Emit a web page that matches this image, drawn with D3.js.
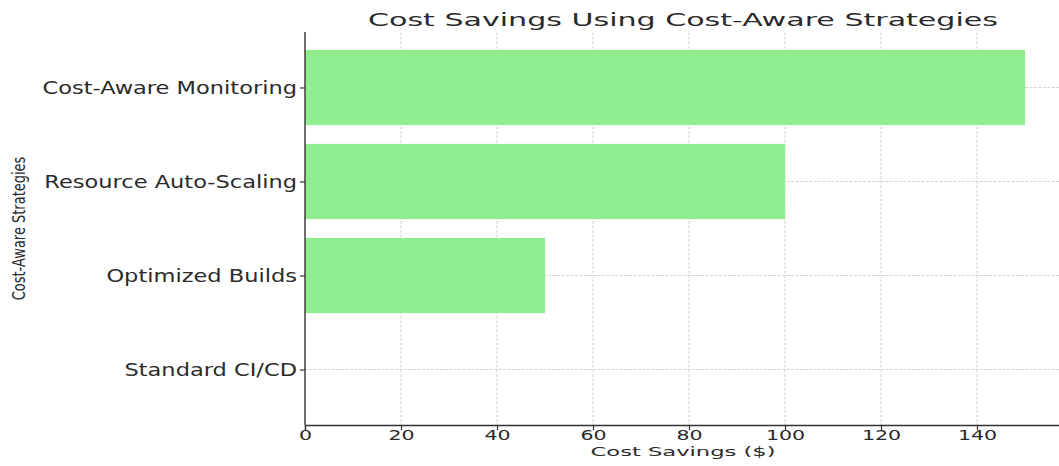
<!DOCTYPE html>
<html><head><meta charset="utf-8">
<script src="https://cdn.jsdelivr.net/npm/d3@7"></script>
<style>
body{margin:0;background:#fff}
svg{display:block}
text{font-family:"DejaVu Sans",sans-serif;fill:#2a2a2a}
</style></head><body>
<script>
const categories = ["Standard CI/CD", "Optimized Builds", "Resource Auto-Scaling", "Cost-Aware Monitoring"];
const savings = [0, 50, 100, 150];
const xTicks = [0, 20, 40, 60, 80, 100, 120, 140];
const titleText = "Cost Savings Using Cost-Aware Strategies";
const xLabelText = "Cost Savings ($)";
const yLabelText = "Cost-Aware Strategies";

const W = 1059, H = 466;
const svg = d3.select("body").append("svg").attr("width", W).attr("height", H);

const x = d3.scaleLinear().domain([0, 157.5]).range([305, 1061]);
const y = d3.scaleLinear().domain([-0.59, 3.59]).range([425, 32]);
const barH = 0.8;
const idx = categories.map((c, i) => i);

// grid
const grid = svg.append("g").attr("stroke", "#c8c8c8").attr("stroke-width", 0.8).attr("stroke-dasharray", "3,1.5");
grid.selectAll("line.gx").data(xTicks.slice(1)).join("line")
  .attr("x1", d => x(d)).attr("x2", d => x(d))
  .attr("y1", y(3.59)).attr("y2", y(-0.59));
grid.selectAll("line.gy").data(idx).join("line")
  .attr("x1", x(0)).attr("x2", x(157.5))
  .attr("y1", d => y(d)).attr("y2", d => y(d));

// bars
svg.append("g").selectAll("rect").data(idx).join("rect")
  .attr("x", x(0))
  .attr("y", i => y(i + barH / 2))
  .attr("width", i => x(savings[i]) - x(0))
  .attr("height", i => y(i - barH / 2) - y(i + barH / 2))
  .attr("fill", "#90ee90");

// axes
const xAxis = svg.append("g").attr("transform", `translate(0,${y(-0.59)})`)
  .call(d3.axisBottom(x).tickValues(xTicks).tickFormat(d3.format("d")).tickSize(5).tickPadding(4));
xAxis.select(".domain").attr("stroke", "#333").attr("stroke-width", 1.4);
xAxis.selectAll(".tick line").attr("stroke", "#333").attr("stroke-width", 1.2);
xAxis.selectAll(".tick text")
  .attr("font-size", 13.7).attr("fill", "#2a2a2a")
  .attr("y", 0).attr("dy", 0)
  .attr("transform", "translate(0,15) scale(1.5,1)");

const yAxis = svg.append("g").attr("transform", `translate(${x(0)},0)`)
  .call(d3.axisLeft(y).tickValues(idx).tickFormat(i => categories[i]).tickSize(5).tickPadding(3));
yAxis.select(".domain").remove();
yAxis.append("line").attr("x1", 0).attr("x2", 0).attr("y1", y(3.59)).attr("y2", y(-0.59))
  .attr("stroke", "#333").attr("stroke-width", 1.4);
yAxis.selectAll(".tick line").attr("stroke", "#333").attr("stroke-width", 1.2);
yAxis.selectAll(".tick text")
  .attr("font-size", 16.8).attr("fill", "#2a2a2a")
  .attr("x", 0).attr("dy", "0.36em")
  .attr("transform", "translate(-8,0) scale(1.34,1)");

// title
svg.append("text").attr("text-anchor", "middle").attr("font-size", 17)
  .attr("transform", `translate(${(x(0) + x(157.5)) / 2},26) scale(1.77,1)`)
  .text(titleText);
// x label
svg.append("text").attr("text-anchor", "middle").attr("font-size", 13)
  .attr("transform", `translate(${(x(0) + x(157.5)) / 2},456) scale(1.74,1)`)
  .text(xLabelText);
// y label
svg.append("text").attr("text-anchor", "middle").attr("font-size", 13)
  .attr("transform", `translate(25,${(y(3.59) + y(-0.59)) / 2 - 0}) scale(1.4,1) rotate(-90)`)
  .text(yLabelText);
</script>
</body></html>
